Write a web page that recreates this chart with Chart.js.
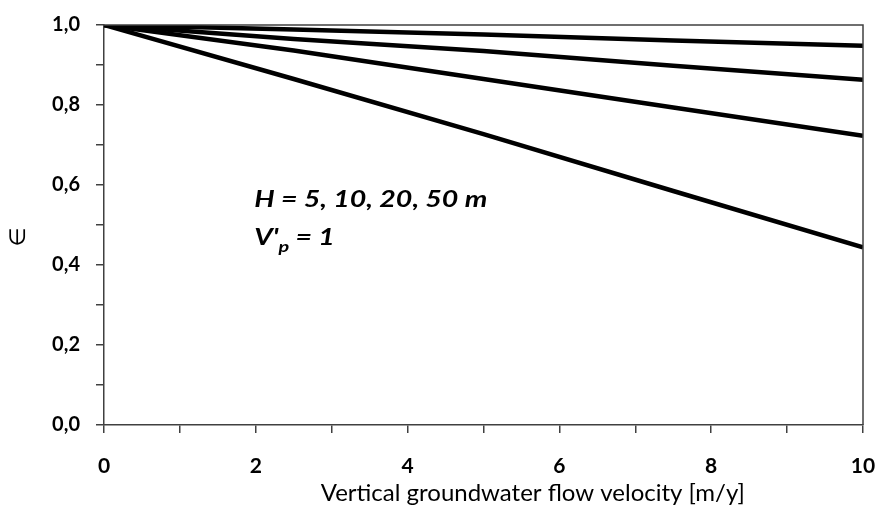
<!DOCTYPE html>
<html>
<head>
<meta charset="utf-8">
<script src="https://cdn.jsdelivr.net/npm/chart.js@4/dist/chart.umd.min.js"></script>
<style>
  html, body { margin: 0; padding: 0; background: #ffffff; }
  #wrap { width: 877px; height: 506px; }
</style>
</head>
<body>
<div id="wrap"><canvas id="c" width="877" height="506"></canvas></div>
<script>
// ---- data ----
const velocities = [0, 2.5, 5, 7.5, 10];
const seriesH5  = [1.000, 0.989, 0.976, 0.961, 0.948];
const seriesH10 = [1.000, 0.965, 0.935, 0.898, 0.863];
const seriesH20 = [1.000, 0.936, 0.865, 0.794, 0.723];
const seriesH50 = [1.000, 0.865, 0.727, 0.585, 0.444];
const seriesNames = ['H = 5 m', 'H = 10 m', 'H = 20 m', 'H = 50 m'];
const xTitle = 'Vertical groundwater flow velocity [m/y]';
const yTitle = '\u2208';
const noteLine1 = 'H = 5, 10, 20, 50 m';
const noteLine2a = "V'";
const noteLine2sub = 'p';
const noteLine2b = ' = 1';

const FONT = 'Lato, "Open Sans", "DejaVu Sans", sans-serif';
const axisColor = '#404040';

function toPts(ys) { return velocities.map((x, i) => ({ x: x, y: ys[i] })); }

const frame = {
  id: 'frame',
  afterDraw(chart) {
    const { ctx, chartArea: a, scales } = chart;
    ctx.save();
    ctx.strokeStyle = axisColor;
    ctx.lineWidth = 1.5;
    ctx.beginPath();
    ctx.moveTo(a.left, a.top);
    ctx.lineTo(a.right, a.top);
    ctx.lineTo(a.right, a.bottom);
    ctx.stroke();

    // axis titles
    ctx.fillStyle = '#000';
    ctx.textAlign = 'center';
    ctx.textBaseline = 'alphabetic';
    ctx.font = '24px ' + FONT;
    ctx.fillText(xTitle, scales.x.getPixelForValue(5.65), 501);
    ctx.save();
    ctx.translate(18, scales.y.getPixelForValue(0.47));
    ctx.rotate(-Math.PI / 2);
    ctx.textBaseline = 'middle';
    ctx.font = '22px ' + FONT;
    ctx.fillText(yTitle, 0, 0);
    ctx.restore();

    // annotation
    const x0 = scales.x.getPixelForValue(1.98);
    const y1 = scales.y.getPixelForValue(0.544);
    const y2 = scales.y.getPixelForValue(0.451);
    const sx = 1.24;
    ctx.textBaseline = 'alphabetic';
    ctx.textAlign = 'left';
    ctx.save();
    ctx.translate(x0, 0);
    ctx.scale(sx, 1);
    ctx.font = 'italic bold 23px ' + FONT;
    ctx.fillText(noteLine1, 0, y1);
    ctx.fillText(noteLine2a, 0, y2);
    let w = ctx.measureText(noteLine2a).width;
    ctx.font = 'italic bold 16px ' + FONT;
    ctx.fillText(noteLine2sub, w, y2 + 7);
    let w2 = ctx.measureText(noteLine2sub).width;
    ctx.font = 'italic bold 23px ' + FONT;
    ctx.fillText(noteLine2b, w + w2, y2);
    ctx.restore();
    ctx.restore();
  }
};

new Chart(document.getElementById('c'), {
  type: 'line',
  data: {
    datasets: [seriesH5, seriesH10, seriesH20, seriesH50].map((s, i) => ({
      label: seriesNames[i],
      data: toPts(s),
      borderColor: '#000000',
      backgroundColor: '#000000',
      borderWidth: 4.5,
      pointRadius: 0,
      tension: 0,
      fill: false
    }))
  },
  options: {
    responsive: false,
    animation: false,
    layout: { padding: { top: 25, right: 14, left: 0, bottom: 0 } },
    plugins: { legend: { display: false }, tooltip: { enabled: false } },
    scales: {
      x: {
        type: 'linear',
        min: 0, max: 10,
        afterFit(s) { s.height = 81; s.paddingLeft = 0; s.paddingRight = 0; },
        border: { display: true, color: axisColor, width: 1.5 },
        grid: { display: true, drawOnChartArea: false, drawTicks: true, tickLength: 8, color: axisColor, lineWidth: 1.5 },
        ticks: {
          stepSize: 1,
          autoSkip: false,
          maxRotation: 0,
          padding: 21,
          color: '#000',
          font: { family: FONT, size: 21, weight: 'bold' },
          callback: (v) => (Math.round(v) % 2 === 0 ? String(Math.round(v)) : '')
        },
        title: { display: false }
      },
      y: {
        type: 'linear',
        min: 0, max: 1,
        afterFit(s) { s.width = 104; s.paddingTop = 0; s.paddingBottom = 0; },
        border: { display: true, color: axisColor, width: 1.5 },
        grid: { display: true, drawOnChartArea: false, drawTicks: true, tickLength: 8, color: axisColor, lineWidth: 1.5 },
        ticks: {
          stepSize: 0.1,
          autoSkip: false,
          padding: 16,
          color: '#000',
          font: { family: FONT, size: 20, weight: 'bold' },
          callback: (v) => {
            const t = Math.round(v * 10);
            return t % 2 === 0 ? (t / 10).toFixed(1).replace('.', ',') : '';
          }
        },
        title: { display: false }
      }
    }
  },
  plugins: [frame]
});
</script>
</body>
</html>
